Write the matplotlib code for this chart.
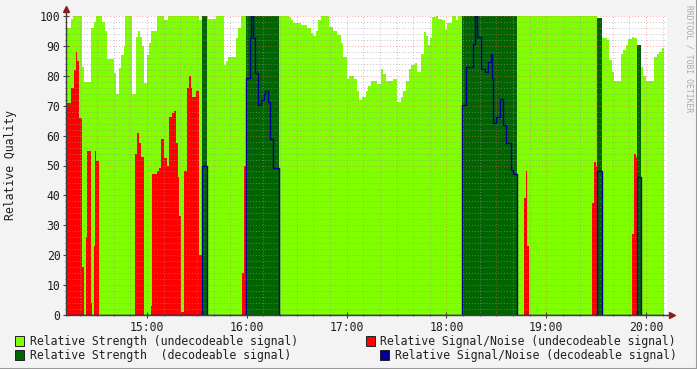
import numpy as np
import matplotlib
matplotlib.use("Agg")
import matplotlib.pyplot as plt
from matplotlib.patches import Rectangle
from matplotlib.lines import Line2D
from matplotlib.ticker import MultipleLocator

# time in minutes after 14:00, step changes of each series
t_start = 11.3
t_end = 370.5

strength_undec_t = [11.3, 14.3, 15.5, 20.9, 22.1, 26.5, 28.0, 29.5, 32.9, 34.6, 36.0, 40.0, 41.4, 43.0,
                    44.4, 46.0, 47.0, 51.0, 53.4, 54.6, 56.0, 57.0, 58.4, 60.0, 61.4, 62.6, 65.8, 70.4,
                    72.8, 91.4, 92.9, 95.9, 96.5, 101.5, 106.3, 107.5, 108.9, 113.5, 114.9, 116.5, 119.8,
                    139.1, 145.4, 146.6, 148.0, 152.4, 156.4, 158.4, 160.0, 161.4, 162.6, 164.6, 169.4,
                    171.6, 174.4, 176.4, 177.6, 180.1, 181.4, 184.4, 186.4, 187.5, 189.1, 191.5, 193.0,
                    194.7, 198.1, 200.7, 201.7, 203.5, 208.1, 210.1, 212.7, 214.1, 215.7, 217.5, 218.7,
                    221.1, 222.1, 224.7, 226.5, 227.7, 229.1, 230.1, 231.5, 233.6, 235.1, 237.2, 239.2,
                    240.6, 243.2, 245.8, 247.2, 249.2, 282.4, 330.5, 333.5, 336.4, 337.9, 339.7, 340.8,
                    344.8, 346.4, 347.8, 349.4, 351.4, 353.0, 354.4, 357.0, 358.4, 360.0, 364.8, 366.4,
                    368.0, 369.4]
strength_undec_v = [96, 99, 100, 83, 78, 96, 98, 100, 98, 95, 85.5, 81, 74, 82.5,
                    87, 90, 100, 74, 93, 95, 93, 90, 77.5, 87, 91, 95, 100, 98.7,
                    100, 98.7, 0, 100, 99, 100, 83.6, 85, 86.4, 92.5, 96, 100, 0,
                    100, 99.5, 98.7, 97.5, 97, 95.9, 94.2, 93.4, 95, 98.7, 100, 96.4,
                    95, 93.6, 90.9, 86.4, 79, 80, 79, 75, 72, 73, 75, 76.6,
                    78.3, 77.3, 82.2, 80.6, 78.3, 79, 71.3, 73, 75, 78.3, 82.2, 83.6,
                    84.3, 81.4, 87.3, 94.8, 93.3, 90.3, 92.5, 99.5, 100, 99, 98.7, 95.3,
                    97.8, 100, 98.7, 100, 0, 100, 0, 92.5, 92, 85.3, 81.4, 78.3,
                    87.2, 88.6, 90.3, 92.2, 93, 92.5, 0, 83, 80, 78.3, 86.4, 87.2,
                    88, 89.4]

strength_dec_t = [11.3, 92.9, 95.9, 119.8, 139.1, 249.2, 282.4, 330.5, 333.5, 354.4, 357.0]
strength_dec_v = [0, 100, 0, 100, 0, 100, 0, 99.3, 0, 90.3, 0]

snr_undec_t = [11.3, 14.3, 16.3, 17.3, 17.9, 18.9, 20.9, 22.1, 23.3, 24.1, 26.2, 27.0, 28.1, 28.9,
               29.5, 31.0, 53.0, 54.2, 55.4, 56.6, 58.2, 62.2, 63.0, 65.8, 67.2, 68.4, 70.4, 71.8,
               73.2, 74.8, 76.2, 77.4, 78.5, 79.2, 80.4, 82.4, 84.0, 85.4, 86.5, 87.2, 89.5, 91.1,
               92.9, 117.3, 118.5, 119.8, 286.7, 287.9, 288.3, 289.7, 327.6, 329.0, 330.0, 330.5,
               351.4, 353.0, 353.8, 354.4, 356.8, 357.6]
snr_undec_v = [71, 76, 82, 88, 85, 66, 16, 0, 26, 55, 4, 0, 23, 55,
               51.6, 0, 54, 61, 57.6, 53, 0, 3, 47, 48, 49, 59, 52.4, 50,
               66.3, 67.6, 68.2, 57.4, 46, 33, 1, 48, 76, 80, 76, 73, 75, 20,
               0, 14, 50, 0, 39, 48, 23, 0, 37.5, 51.3, 50, 0,
               27, 54, 53, 0, 18.4, 0]

snr_dec_t = [11.3, 92.9, 95.9, 119.8, 121.9, 122.7, 123.9, 125.1, 126.9, 128.5, 130.3, 131.1, 132.7,
             133.9, 135.6, 139.1, 249.2, 251.8, 256.2, 257.4, 258.2, 261.0, 263.4, 265.2, 266.6,
             267.2, 268.2, 269.8, 272.2, 274.2, 275.6, 278.8, 280.2, 282.4, 330.5, 333.5, 354.4, 357.0]
snr_dec_v = [0, 50, 0, 79.1, 92.7, 100, 92.7, 80.8, 70.2, 72, 73.8, 75, 71.3,
             59, 49, 0, 70.2, 83, 90.5, 100, 93, 82.2, 81.4, 84.7, 87.2,
             79.4, 64.1, 66.1, 72.1, 63.5, 57.4, 48.5, 47, 0, 48.2, 0, 46, 0]

hour_ticks = [60, 120, 180, 240, 300, 360]
hour_labels = ["15:00", "16:00", "17:00", "18:00", "19:00", "20:00"]

legend_items = [
    ("Relative Strength (undecodeable signal)", "#7FFF00"),
    ("Relative Signal/Noise (undecodeable signal)", "#FF0000"),
    ("Relative Strength  (decodeable signal)", "#006400"),
    ("Relative Signal/Noise (decodeable signal)", "#000099"),
]

mono = "DejaVu Sans Mono"
fs = 8.3
W, H = 697, 369

fig = plt.figure(figsize=(W / 100, H / 100), dpi=100, facecolor="#F3F3F3")
ax = fig.add_axes([66 / W, (H - 315) / H, (667 - 66) / W, 299 / H])
ax.set_facecolor("white")


def steps(t, v):
    return np.append(t, t_end), np.append(v, v[-1])


tt, vv = steps(strength_undec_t, strength_undec_v)
ax.fill_between(tt, 0, vv, step="post", color="#7FFF00", linewidth=0, zorder=1)
tt, vv = steps(strength_dec_t, strength_dec_v)
ax.fill_between(tt, 0, vv, step="post", color="#006400", linewidth=0, zorder=1.1)
tt, vv = steps(snr_undec_t, snr_undec_v)
ax.fill_between(tt, 0, vv, step="post", color="#FF0000", linewidth=0, zorder=1.2)
tt, vv = steps(snr_dec_t, snr_dec_v)
ax.step(tt, vv, where="post", color="#000099", lw=1.0, zorder=3)

ax.set_xlim(t_start, 372.6)
ax.set_ylim(0, 100)

ax.set_xticks(hour_ticks)
ax.set_xticklabels(hour_labels)
ax.xaxis.set_minor_locator(MultipleLocator(10))
ax.yaxis.set_major_locator(MultipleLocator(10))
ax.yaxis.set_minor_locator(MultipleLocator(2))

# rrdtool style grids: grey minor, red major (every 30 min / 10 units)
for x in np.arange(20, 372, 10):
    c = (1, 0.35, 0.35, 0.55) if x % 30 == 0 else (0.6, 0.6, 0.6, 0.6)
    ax.axvline(x, color=c, lw=0.7, ls=(0, (1, 2)), zorder=2.5)
for y in range(2, 101, 2):
    c = (1, 0.35, 0.35, 0.55) if y % 10 == 0 else (0.6, 0.6, 0.6, 0.6)
    ax.axhline(y, color=c, lw=0.7, ls=(0, (1, 2)), zorder=2.5)

for s in ["top", "right"]:
    ax.spines[s].set_visible(False)
for s in ["left", "bottom"]:
    ax.spines[s].set_color("#404040")
    ax.spines[s].set_linewidth(1.0)
    ax.spines[s].set_zorder(4)

ax.tick_params(which="major", direction="inout", length=4, width=0.8, color="#404040",
               labelsize=fs, pad=2)
ax.tick_params(which="minor", direction="inout", length=2, width=0.6, color="#404040")
for lab in ax.get_xticklabels() + ax.get_yticklabels():
    lab.set_fontfamily(mono)
    lab.set_color("#202020")

# axis arrows
ax.plot([0, 0], [1, 1.022], transform=ax.transAxes, color="#404040", lw=1, clip_on=False, zorder=4)
ax.plot([0], [1.022], transform=ax.transAxes, marker="^", color="#8B1A1A", ms=5, clip_on=False, zorder=5)
ax.plot([1, 1.006], [0, 0], transform=ax.transAxes, color="#404040", lw=1, clip_on=False, zorder=4)
ax.plot([1.008], [0], transform=ax.transAxes, marker=">", color="#8B1A1A", ms=5, clip_on=False, zorder=5)

fig.text(11 / W, 1 - 165 / H, "Relative Quality", rotation=90, ha="center", va="center",
         family=mono, fontsize=fs, color="#202020")
fig.text(689 / W, 1 - 5 / H, "RRDTOOL / TOBI OETIKER", rotation=270, ha="center", va="top",
         family=mono, fontsize=5.8, color="#AAAAAA")

# legend
positions = [(15, 341, 30), (366, 341, 380), (15, 355, 30), (380, 355, 395)]
for (label, color), (bx, by, tx) in zip(legend_items, positions):
    fig.patches.append(Rectangle((bx / W, 1 - (by + 5) / H), 9 / W, 10 / H, transform=fig.transFigure,
                                 facecolor=color, edgecolor="#202020", lw=0.7))
    fig.text(tx / W, 1 - by / H, label, ha="left", va="center", family=mono, fontsize=fs,
             color="#202020")

# image frame shading
fig.add_artist(Line2D([0, 1], [0.5 / H, 0.5 / H], transform=fig.transFigure, color="#9A9A9A", lw=1.5))
fig.add_artist(Line2D([1 - 0.5 / W, 1 - 0.5 / W], [0, 1], transform=fig.transFigure, color="#9A9A9A", lw=1.5))

fig.savefig("out.png", dpi=100, facecolor=fig.get_facecolor())
